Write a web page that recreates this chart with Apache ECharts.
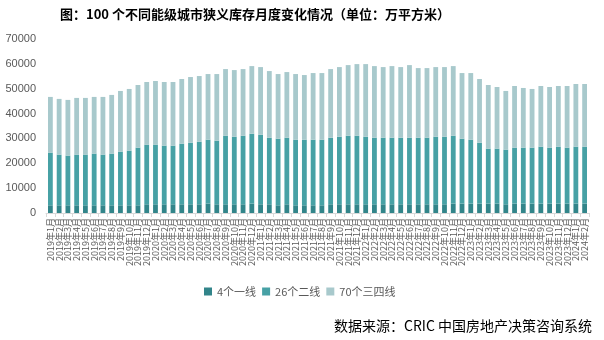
<!DOCTYPE html>
<html><head><meta charset="utf-8">
<script src="https://cdn.jsdelivr.net/npm/echarts@6/dist/echarts.min.js"></script>
<style>html,body{margin:0;padding:0;background:#fff;}#c{width:604px;height:340px;}</style>
</head><body><div id="c"></div>
<script>
const months = [];
for (let y = 2019; y <= 2024; y++) {
  for (let m = 1; m <= 12; m++) {
    if (y === 2024 && m > 2) break;
    months.push(y + '年' + m + '月');
  }
}
const tier1 = [3100,3100,3100,3100,3100,3100,3100,3100,3100,3100,3100,3500,3500,3500,3500,3500,3500,3500,3800,3500,3500,3500,3500,3800,3500,3500,3100,3500,3100,3100,3100,3100,3500,3500,3500,3500,3500,3500,3500,3500,3500,3500,3500,3500,3500,3500,3800,3800,3800,3800,3800,3800,3500,3800,3800,3800,3800,3800,3800,3800,3800,3800];
const cum2 = [24300,23500,23100,23500,23500,23900,23500,23900,24700,25100,26300,27500,27500,27100,27100,27900,28300,28700,29500,29100,31100,30700,31100,31900,31500,30300,29900,30300,29500,29500,29500,29500,30300,30700,31100,31100,30700,30300,30300,30300,30300,30300,30300,30300,30700,30700,31100,29900,29500,28300,25900,25900,25500,26300,26300,26300,26700,26300,26700,26300,26700,26700];
const total = [46700,45900,45500,46300,46300,46700,46700,47500,49100,49900,51500,52700,53100,52700,52700,53900,54700,55100,55900,55900,57900,57500,57900,59100,58700,57100,55900,56700,55900,55500,56300,56300,57900,58700,59500,59900,59900,59100,58700,59100,58700,59500,58300,58300,58700,58700,59100,56300,56300,53900,51500,50700,49100,51100,50300,49900,51100,50700,51100,51100,51900,51900];
const tier2 = cum2.map((v, i) => v - tier1[i]);
const tier34 = total.map((v, i) => v - cum2[i]);
const seriesNames = ['4个一线', '26个二线', '70个三四线'];
const colors = ['#32858a', '#47a1a5', '#a8c9cc'];

const chart = echarts.init(document.getElementById('c'));
chart.setOption({
  animation: false,
  color: colors,
  title: {
    text: '图：100 个不同能级城市狭义库存月度变化情况（单位：万平方米）',
    left: 250, top: 3, textAlign: 'center',
    textStyle: { fontSize: 13, fontWeight: 'bold', color: '#000', fontFamily: 'Noto Sans CJK SC' }
  },
  legend: {
    data: seriesNames, top: 286, left: 204, itemWidth: 8, itemHeight: 8, itemGap: 6,
    icon: 'rect', textStyle: { fontSize: 11, color: '#595959', fontFamily: 'Noto Sans CJK SC' },
    padding: [0, 0, 0, 0]
  },
  grid: { left: 46, right: 15, top: 39, bottom: 127, containLabel: false },
  xAxis: {
    type: 'category', data: months,
    axisLine: { lineStyle: { color: '#d9d9d9', width: 1 } },
    axisTick: { show: true, length: 4, lineStyle: { color: '#d9d9d9' } },
    axisLabel: { interval: 0, rotate: 90, fontSize: 9, color: '#595959', margin: 5, fontFamily: 'Noto Sans CJK SC' }
  },
  yAxis: {
    type: 'value', min: 0, max: 70000, interval: 10000,
    axisLine: { show: false }, axisTick: { show: false }, splitLine: { show: false },
    axisLabel: { fontSize: 11, color: '#595959', margin: 10, fontFamily: 'Liberation Sans', formatter: v => String(v) }
  },
  series: [
    { name: seriesNames[0], type: 'bar', stack: 'a', data: tier1, barWidth: '55%' },
    { name: seriesNames[1], type: 'bar', stack: 'a', data: tier2, barWidth: '55%' },
    { name: seriesNames[2], type: 'bar', stack: 'a', data: tier34, barWidth: '55%' }
  ],
  graphic: [{
    type: 'text', right: 12, top: 319,
    style: { text: '数据来源：CRIC 中国房地产决策咨询系统', fontSize: 14, fill: '#000', fontFamily: 'Noto Sans CJK SC' }
  }]
});
</script></body></html>
